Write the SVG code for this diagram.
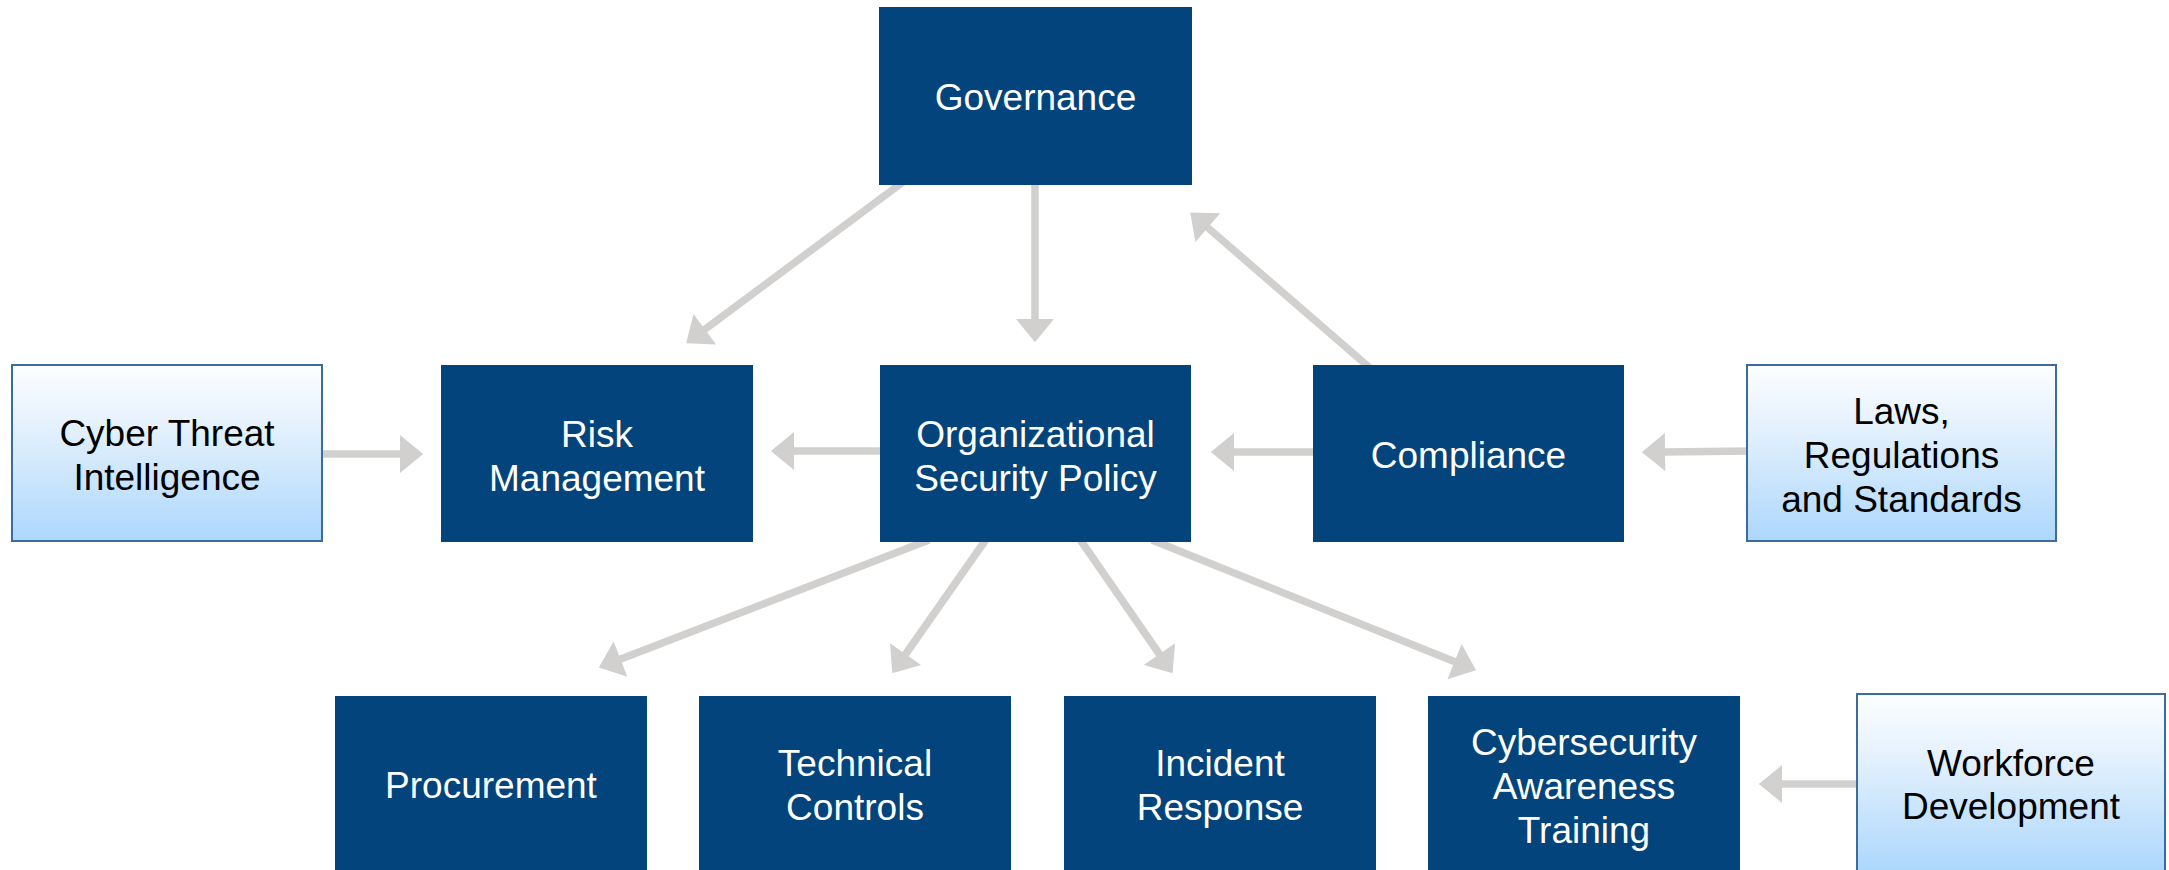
<svg xmlns="http://www.w3.org/2000/svg" width="2169" height="870" viewBox="0 0 2169 870">
  <style>
    .core { fill: #02447b; }
    .src { fill: url(#srcFill); stroke: #3c6c9d; stroke-width: 2; }
    .lbl { font-family: "Liberation Sans", Arial, sans-serif; font-size: 37px; text-anchor: middle; }
    .core-t { fill: #ffffff; }
    .src-t { fill: #000000; }
    .link { stroke: #d1d0ce; stroke-width: 7.5; fill: none; marker-end: url(#head); }
  </style>
  <defs>
    <linearGradient id="srcFill" x1="0" y1="0" x2="0" y2="1">
      <stop offset="0" stop-color="#fdfeff"/>
      <stop offset="0.35" stop-color="#e4f1fd"/>
      <stop offset="1" stop-color="#acd7fc"/>
    </linearGradient>
    <marker id="head" markerUnits="userSpaceOnUse" markerWidth="24" markerHeight="38" viewBox="0 0 22 36" refX="1" refY="18" orient="auto">
      <path d="M0,0 L22,18 L0,36 Z" fill="#d1d0ce"/>
    </marker>
  </defs>

  <rect width="2169" height="870" fill="#ffffff"/>

  <!-- connectors -->
  <g id="connectors">
    <line class="link" x1="903" y1="182" x2="704" y2="330"/>
    <line class="link" x1="1035" y1="180" x2="1035" y2="320"/>
    <line class="link" x1="1370" y1="368" x2="1207" y2="227"/>
    <line class="link" x1="318" y1="454" x2="401" y2="454"/>
    <line class="link" x1="885" y1="451" x2="793" y2="451"/>
    <line class="link" x1="1318" y1="452" x2="1233" y2="452"/>
    <line class="link" x1="1752" y1="451" x2="1664" y2="452"/>
    <line class="link" x1="1862" y1="784" x2="1781" y2="784"/>
    <line class="link" x1="929" y1="540" x2="619.5" y2="659.5"/>
    <line class="link" x1="987" y1="538" x2="905" y2="655"/>
    <line class="link" x1="1079" y1="538" x2="1160" y2="655"/>
    <line class="link" x1="1152" y1="540" x2="1455.5" y2="662"/>
  </g>

  <g id="governance">
    <rect class="core" x="879" y="7" width="313" height="178"/>
    <text class="lbl core-t" x="1035.5" y="110">Governance</text>
  </g>

  <g id="risk-management">
    <rect class="core" x="441" y="365" width="312" height="177"/>
    <text class="lbl core-t" x="597" y="447">Risk</text>
    <text class="lbl core-t" x="597" y="491">Management</text>
  </g>

  <g id="org-security-policy">
    <rect class="core" x="880" y="365" width="311" height="177"/>
    <text class="lbl core-t" x="1035.5" y="447">Organizational</text>
    <text class="lbl core-t" x="1035.5" y="491">Security Policy</text>
  </g>

  <g id="compliance">
    <rect class="core" x="1313" y="365" width="311" height="177"/>
    <text class="lbl core-t" x="1468.5" y="468">Compliance</text>
  </g>

  <g id="cyber-threat-intelligence">
    <rect class="src" x="12" y="365" width="310" height="176"/>
    <text class="lbl src-t" x="167" y="446">Cyber Threat</text>
    <text class="lbl src-t" x="167" y="490">Intelligence</text>
  </g>

  <g id="laws-regulations">
    <rect class="src" x="1747" y="365" width="309" height="176"/>
    <text class="lbl src-t" x="1901.5" y="424">Laws,</text>
    <text class="lbl src-t" x="1901.5" y="468">Regulations</text>
    <text class="lbl src-t" x="1901.5" y="512">and Standards</text>
  </g>

  <g id="procurement">
    <rect class="core" x="335" y="696" width="312" height="176"/>
    <text class="lbl core-t" x="491" y="798">Procurement</text>
  </g>

  <g id="technical-controls">
    <rect class="core" x="699" y="696" width="312" height="176"/>
    <text class="lbl core-t" x="855" y="776">Technical</text>
    <text class="lbl core-t" x="855" y="820">Controls</text>
  </g>

  <g id="incident-response">
    <rect class="core" x="1064" y="696" width="312" height="176"/>
    <text class="lbl core-t" x="1220" y="776">Incident</text>
    <text class="lbl core-t" x="1220" y="820">Response</text>
  </g>

  <g id="awareness-training">
    <rect class="core" x="1428" y="696" width="312" height="176"/>
    <text class="lbl core-t" x="1584" y="755">Cybersecurity</text>
    <text class="lbl core-t" x="1584" y="799">Awareness</text>
    <text class="lbl core-t" x="1584" y="843">Training</text>
  </g>

  <g id="workforce-development">
    <rect class="src" x="1857" y="694" width="308" height="178"/>
    <text class="lbl src-t" x="2011" y="776">Workforce</text>
    <text class="lbl src-t" x="2011" y="819">Development</text>
  </g>
</svg>
